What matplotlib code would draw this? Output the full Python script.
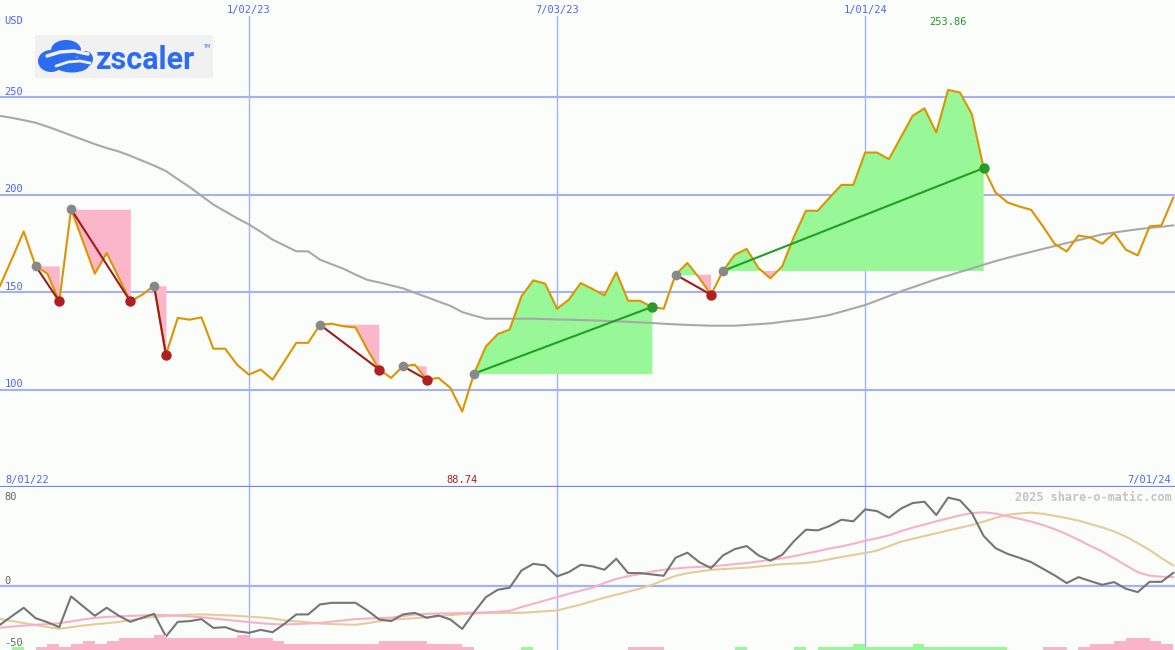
import numpy as np
import pandas as pd
import matplotlib
matplotlib.use("Agg")
import matplotlib.pyplot as plt
from matplotlib.patches import Ellipse, Rectangle

# weekly closes, 8/08/22 .. 7/01/24
dates = pd.date_range("2022-08-08", periods=100, freq="7D")
price = [153.3, 167.0, 181.2, 163.5, 159.5, 145.3, 192.6, 176.0, 159.5, 170.1,
         157.7, 145.3, 148.7, 153.3, 117.9, 136.8, 135.9, 137.1, 121.0, 121.0,
         112.8, 107.7, 110.3, 105.1, 114.5, 124.0, 124.0, 133.3, 133.8, 132.5,
         131.9, 120.5, 110.3, 106.0, 112.0, 112.8, 105.1, 106.0, 100.9, 88.74,
         108.2, 122.2, 128.5, 130.8, 147.9, 156.1, 154.4, 141.5, 146.2, 154.7,
         151.6, 148.4, 160.2, 145.6, 145.6, 142.4, 141.5, 159.0, 165.0, 157.3,
         148.7, 160.9, 169.2, 172.2, 162.4, 157.1, 163.3, 178.6, 191.8, 191.8,
         198.6, 205.1, 205.1, 221.7, 221.7, 218.3, 229.4, 240.5, 244.4, 232.0,
         253.86, 252.5, 241.4, 213.7, 201.2, 196.1, 194.0, 192.3, 183.8, 174.7,
         170.9, 179.1, 178.1, 174.9, 180.3, 171.8, 168.9, 183.8, 184.3, 198.6]
avg = [240.5, 239.5, 238.3, 237.0, 235.0, 232.8, 230.5, 228.3, 226.0, 224.0,
       222.3, 220.0, 217.5, 215.0, 212.2, 208.0, 204.0, 199.5, 195.0, 191.5,
       188.0, 184.8, 181.0, 177.0, 174.0, 171.0, 171.0, 166.7, 164.3, 162.0,
       159.0, 156.3, 155.0, 153.5, 152.0, 149.7, 147.5, 145.2, 143.0, 139.8,
       138.0, 136.4, 136.4, 136.4, 136.4, 136.4, 136.2, 136.0, 135.9, 135.7,
       135.5, 135.3, 135.0, 134.8, 134.5, 134.2, 133.8, 133.5, 133.2, 133.0,
       132.8, 132.8, 132.8, 133.2, 133.6, 134.0, 134.8, 135.5, 136.2, 137.2,
       138.3, 140.0, 141.7, 143.4, 145.7, 148.0, 150.4, 152.5, 154.6, 156.7,
       158.5, 160.4, 162.2, 164.1, 166.0, 167.6, 169.2, 170.7, 172.2, 173.7,
       175.2, 176.7, 178.2, 179.7, 180.6, 181.5, 182.3, 183.0, 183.6, 184.3]
# (buy week, sell week)
trades = [(3, 5), (6, 11), (13, 14), (27, 32), (34, 36), (40, 55), (57, 60), (61, 83)]

# lower panel
osc = [-31.6, -24.6, -17.8, -26.2, -29.5, -33.5, -8.6, -16.5, -24.3, -17.8,
       -24.1, -29.2, -25.9, -22.7, -41.1, -29.2, -28.6, -27.0, -34.1, -33.5,
       -36.8, -38.1, -35.7, -37.6, -30.8, -23.2, -23.2, -15.1, -13.8, -13.8,
       -13.8, -20.0, -27.3, -28.6, -23.2, -21.9, -25.9, -24.1, -27.3, -34.9,
       -21.4, -9.2, -3.2, -1.6, 12.4, 17.8, 16.5, 7.6, 11.1, 17.0,
       15.7, 13.0, 21.9, 10.3, 10.3, 9.2, 8.1, 22.7, 26.8, 19.2,
       14.3, 24.6, 29.7, 32.2, 24.6, 20.3, 25.1, 36.2, 45.4, 44.9,
       48.4, 53.5, 52.2, 61.9, 60.5, 55.1, 62.4, 67.0, 68.1, 57.3,
       71.4, 69.2, 58.9, 40.3, 30.5, 25.9, 22.7, 19.2, 13.8, 8.4,
       2.2, 7.0, 3.8, 0.8, 3.0, -2.4, -5.1, 3.2, 3.2, 10.5]
fast = [-34.0, -33.0, -32.3, -31.6, -31.0, -30.3, -28.9, -27.3, -26.0, -25.2,
        -24.8, -24.4, -24.0, -23.6, -23.7, -24.3, -24.8, -25.5, -26.5, -27.5,
        -28.4, -29.4, -30.3, -31.0, -31.3, -31.0, -30.6, -30.1, -29.0, -28.0,
        -27.0, -26.5, -26.2, -25.8, -24.5, -23.3, -22.7, -22.5, -22.3, -22.0,
        -21.8, -21.5, -21.0, -20.3, -17.2, -14.6, -11.9, -9.2, -6.5, -4.0,
        -1.5, 2.3, 5.5, 7.8, 9.5, 11.5, 13.0, 14.0, 14.8, 15.3,
        15.7, 16.6, 17.6, 18.4, 19.7, 20.9, 22.2, 24.0, 26.1, 28.0,
        30.2, 31.9, 34.0, 36.5, 38.5, 40.8, 44.2, 47.1, 49.6, 52.2,
        54.6, 57.0, 58.9, 59.5, 58.5, 56.3, 54.3, 52.0, 49.2, 45.8,
        41.8, 37.2, 32.3, 27.8, 22.3, 16.5, 11.0, 8.2, 7.3, 7.0]
slow = [-26.8, -28.5, -30.2, -31.8, -33.4, -34.8, -33.5, -32.2, -31.2, -30.3,
        -29.3, -27.8, -26.3, -25.2, -24.5, -23.9, -23.4, -23.2, -23.5, -23.9,
        -24.3, -25.0, -25.6, -26.5, -28.0, -28.8, -29.6, -30.5, -31.0, -31.3,
        -31.6, -30.3, -28.7, -27.3, -26.8, -26.2, -25.6, -24.6, -23.7, -23.0,
        -22.5, -22.0, -21.9, -21.9, -21.9, -21.3, -20.6, -20.0, -17.6, -15.2,
        -12.4, -9.6, -7.2, -4.8, -2.3, 0.8, 4.5, 8.0, 10.2, 11.6,
        12.9, 13.5, 14.1, 14.6, 15.6, 16.6, 17.5, 18.0, 18.5, 19.6,
        21.5, 23.3, 25.0, 26.6, 28.5, 32.0, 35.7, 38.0, 40.3, 42.5,
        44.8, 47.0, 49.2, 52.0, 55.0, 57.5, 58.6, 59.2, 58.3, 56.6,
        54.8, 52.8, 50.0, 47.3, 44.0, 39.8, 34.5, 29.0, 22.4, 16.5]
hist = [0, 1, 0, -1, -2, -1, -2, -3, -2, -3,
        -4, -4, -4, -5, -4, -4, -4, -4, -4, -4,
        -5, -4, -4, -3, -2, -2, -2, -2, -2, -2,
        -2, -2, -3, -3, -3, -3, -2, -2, -2, -1,
        0, 0, 0, 0, 1, 0, 0, 0, 0, 0,
        0, 0, 0, -1, -1, -1, 0, 0, 0, 0,
        0, 0, 1, 0, 0, 0, 0, 1, 0, 1,
        1, 1, 2, 1, 1, 1, 1, 2, 1, 1,
        1, 1, 1, 1, 1, 0, 0, 0, -1, -1,
        0, -1, -2, -2, -3, -4, -4, -3, -2, 0]

price_ticks = [100, 150, 200, 250]
date_ticks = pd.to_datetime(["2023-01-02", "2023-07-03", "2024-01-01"])
date_labels = ["1/02/23", "7/03/23", "1/01/24"]

bg = "#fbfdfb"
grid = "#a4b2f4"
blue_txt = "#5065f0"
mono = "DejaVu Sans Mono"

price = np.array(price)
x = dates
xmax = dates[-1] + pd.Timedelta(days=1)

fig = plt.figure(figsize=(11.75, 6.5), dpi=100, facecolor=bg)
ax = fig.add_axes([0, 163 / 650, 1, 487 / 650], facecolor=bg)
ax2 = fig.add_axes([0, 0, 1, 163 / 650], facecolor=bg)

# ---- price panel
ax.set_xlim(dates[0], xmax)
ax.set_ylim(50, 300)
for v in price_ticks:
    ax.axhline(v, color=grid, lw=1.5, zorder=0)
    ax.text(0.004, v + 1.3, str(v), transform=ax.get_yaxis_transform(),
            color=blue_txt, fontsize=7.5, family=mono, va="baseline")
for d, lab in zip(date_ticks, date_labels):
    ax.axvline(d, ymax=1 - 16 / 487, color=grid, lw=1, zorder=0)
    ax.text(d, 1 - 13 / 487, lab, transform=ax.get_xaxis_transform(),
            color=blue_txt, fontsize=7.5, family=mono, ha="center", va="baseline")
ax.axhline(50, color="#7383ee", lw=1.6, clip_on=False, zorder=3)

for b, s in trades:
    seg = slice(b, s + 1)
    ax.fill_between(x[seg], price[seg], price[b], where=price[seg] >= price[b],
                    interpolate=True, color="#98f898", lw=0, zorder=1)
    ax.fill_between(x[seg], price[seg], price[b], where=price[seg] <= price[b],
                    interpolate=True, color="#fbb6c9", lw=0, zorder=1)

ax.plot(x, avg, color="#a8a8a8", lw=1.5, zorder=2)
ax.plot(x, price, color="#dc9400", lw=1.5, zorder=3)

for b, s in trades:
    win = price[s] > price[b]
    ax.plot([x[b], x[s]], [price[b], price[s]],
            color="#20a020" if win else "#a01c1c", lw=1.5, zorder=4)
    ax.plot(x[b], price[b], "o", color="#888888", ms=7, mec="none", zorder=5)
    ax.plot(x[s], price[s], "o", color="#2a9a2a" if win else "#b02020",
            ms=7.5, mec="none", zorder=5)

imax = int(np.argmax(price))
imin = int(np.argmin(price))
ax.text(x[imax], 1 - 25 / 487, f"{price[imax]:.2f}", transform=ax.get_xaxis_transform(),
        color="#229922", fontsize=7.5, family=mono, ha="center", va="baseline")
ax.text(x[imin], 4 / 487, f"{price[imin]:.2f}", transform=ax.get_xaxis_transform(),
        color="#aa2020", fontsize=7.5, family=mono, ha="center", va="baseline")
ax.text(0.005, 4 / 487, "8/01/22", transform=ax.transAxes,
        color=blue_txt, fontsize=7.5, family=mono, va="baseline")
ax.text(0.997, 4 / 487, "7/01/24", transform=ax.transAxes,
        color=blue_txt, fontsize=7.5, family=mono, ha="right", va="baseline")
ax.text(0.004, 1 - 24 / 487, "USD", transform=ax.transAxes,
        color=blue_txt, fontsize=7.5, family=mono, va="baseline")
ax.set_xticks([])
ax.set_yticks([])
for sp in ax.spines.values():
    sp.set_visible(False)

# ---- oscillator panel
ax2.set_xlim(dates[0], xmax)
ax2.set_ylim(-52, 80)
ax2.axhline(0, color=grid, lw=1.6, zorder=0)
for d in date_ticks:
    ax2.axvline(d, color=grid, lw=1, zorder=0)
ax2.plot(x, slow, color="#e4cc98", lw=1.5, zorder=2)
ax2.plot(x, fast, color="#f8b0c8", lw=1.5, zorder=2)
ax2.plot(x, osc, color="#757575", lw=1.5, zorder=3)

ax3 = ax2.twinx()
ax3.set_ylim(0, 52.6)
hist = np.array(hist)
ax3.bar(x, np.abs(hist), width=7, align="edge",
        color=np.where(hist > 0, "#98f898", "#f9b4c8"), lw=0)
ax3.set_xlim(dates[0], xmax)
ax3.axis("off")

ax2.text(0.004, 1 - 13 / 163, "80", transform=ax2.transAxes,
         color="#666666", fontsize=7.5, family=mono, va="baseline")
ax2.text(0.004, 1.8, "0", transform=ax2.get_yaxis_transform(),
         color="#666666", fontsize=7.5, family=mono, va="baseline")
ax2.text(0.004, 4 / 163, "-50", transform=ax2.transAxes,
         color="#666666", fontsize=7.5, family=mono, va="baseline")
ax2.text(0.997, 1 - 14 / 163, "2025 share-o-matic.com", transform=ax2.transAxes,
         color="#c4c4c4", fontsize=8.5, family=mono, fontweight="bold",
         ha="right", va="baseline")
ax2.set_xticks([])
ax2.set_yticks([])
for sp in ax2.spines.values():
    sp.set_visible(False)

# ---- logo
ov = fig.add_axes([0, 0, 1, 1])
ov.set_xlim(0, 1175)
ov.set_ylim(650, 0)
ov.axis("off")
ov.patch.set_alpha(0)
logo_blue = "#2b6cf0"
ov.add_patch(Rectangle((35, 35), 178, 43, color="#f1f1f1", lw=0))
for cx, cy, w, h in [(66, 50, 30, 20), (51, 61, 26, 22), (72, 65, 34, 15), (85, 59, 16, 16)]:
    ov.add_patch(Ellipse((cx, cy), w, h, color=logo_blue, lw=0))
ov.plot([47, 60, 74, 88], [56, 52, 51, 54], color="#f1f1f1", lw=2.5, solid_capstyle="round")
ov.plot([56, 68, 80, 90], [66, 62, 61, 63], color="#f1f1f1", lw=2.0, solid_capstyle="round")
ov.text(96, 69, "zscaler", color=logo_blue, fontsize=22, fontweight="bold",
        family="Roboto", va="baseline")
ov.text(203, 48, "TM", color=logo_blue, fontsize=3.5, va="baseline")

fig.savefig("out.png", dpi=100, facecolor=bg)
